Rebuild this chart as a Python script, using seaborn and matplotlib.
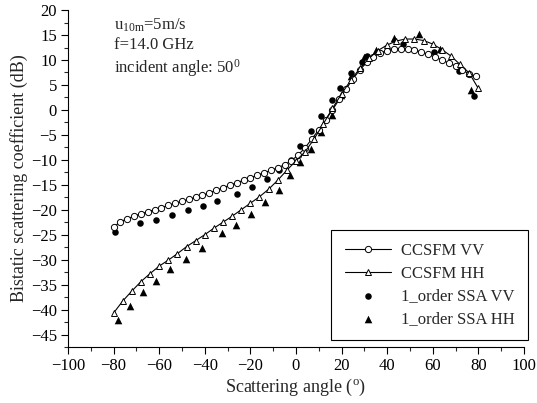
import numpy as np
import pandas as pd
import matplotlib
matplotlib.use("Agg")
import matplotlib.pyplot as plt
import seaborn as sns
from matplotlib.ticker import MultipleLocator

# ---- data ----
vv_x = [-80, -77, -74, -71, -68, -65, -62, -59, -56, -53, -50, -47, -44, -41, -38, -35,
        -32, -29, -26, -23, -20, -17, -14, -11, -8, -5, -2, 1, 4, 7, 10, 13, 16, 19, 22,
        25, 28, 31, 34, 37, 40, 43, 46, 49, 52, 55, 58, 61, 64, 67, 70, 73, 76, 79]
vv_y = [-23.5, -22.4, -21.8, -21.3, -20.8, -20.4, -20.0, -19.6, -19.1, -18.7, -18.3,
        -17.9, -17.5, -17.1, -16.6, -16.1, -15.6, -15.1, -14.6, -14.1, -13.6, -13.1,
        -12.6, -12.1, -11.6, -11.0, -10.2, -9.0, -7.6, -5.8, -4.0, -2.0, 0.0, 2.1, 4.2,
        6.2, 8.0, 9.5, 10.6, 11.4, 11.9, 12.2, 12.3, 12.2, 12.0, 11.6, 11.1, 10.6, 10.0,
        9.4, 8.8, 8.0, 7.2, 6.7]

hh_x = [-80, -76, -72, -68, -64, -60, -56, -52, -48, -44, -40, -36, -32, -28, -24, -20,
        -16, -12, -8, -4, 0, 4, 8, 12, 16, 20, 24, 28, 32, 36, 40, 44, 48, 52, 56, 60,
        64, 68, 72, 76, 80]
hh_y = [-40.7, -38.3, -36.3, -34.4, -32.8, -31.3, -30.1, -28.8, -27.4, -26.2, -25.0,
        -23.7, -22.5, -21.3, -20.0, -18.7, -17.4, -15.9, -14.1, -12.1, -10.2, -8.4, -5.8,
        -2.8, 0.3, 3.2, 5.9, 8.3, 10.3, 11.9, 13.0, 13.8, 14.2, 14.2, 13.9, 13.2, 12.1,
        10.8, 9.1, 7.4, 4.3]

ssa_vv_x = [-79.3, -68.3, -61.4, -54.2, -47.3, -40.9, -34.6, -26.0, -19.4, -12.9, -7.5,
            -2.3, 2.0, 6.7, 11.0, 15.8, 19.4, 24.3, 29.1, 31.3, 47.0, 60.5, 71.4, 78.0]
ssa_vv_y = [-24.5, -22.7, -22.0, -21.0, -20.1, -19.3, -18.2, -16.8, -15.5, -13.9, -12.0,
            -10.1, -7.3, -4.2, -1.3, 1.9, 4.3, 7.3, 9.6, 10.7, 13.3, 11.7, 7.8, 2.8]

ssa_hh_x = [-78.1, -72.7, -67.2, -61.2, -55.2, -48.1, -41.4, -32.5, -26.4, -19.6, -13.6,
            -7.5, -2.7, 2.0, 6.7, 11.0, 15.8, 19.6, 24.3, 29.9, 35.0, 42.9, 54.1, 63.2,
            71.9, 77.0]
ssa_hh_y = [-42.1, -39.2, -36.5, -34.2, -31.9, -29.8, -27.7, -24.7, -23.0, -20.9, -18.5,
            -16.1, -13.0, -10.5, -7.8, -4.5, -1.0, 3.0, 6.7, 10.5, 12.0, 14.5, 15.2, 12.3,
            9.0, 3.9]

labels = ["CCSFM VV", "CCSFM HH", "1_order SSA VV", "1_order SSA HH"]
x_ticks = [-100, -80, -60, -40, -20, 0, 20, 40, 60, 80, 100]
y_ticks = [20, 15, 10, 5, 0, -5, -10, -15, -20, -25, -30, -35, -40, -45]

sns.set_style("ticks")
plt.rcParams['font.family'] = ['Liberation Serif', 'DejaVu Serif']
plt.rcParams['mathtext.fontset'] = 'custom'
plt.rcParams['mathtext.rm'] = 'Liberation Serif'
plt.rcParams['mathtext.it'] = 'Liberation Serif:italic'

fig = plt.figure(figsize=(5.37, 4.03), dpi=100)
ax = fig.add_axes([0.1266, 0.139, 0.849, 0.836])

df_vv = pd.DataFrame({"x": vv_x, "y": vv_y})
df_hh = pd.DataFrame({"x": hh_x, "y": hh_y})
df_svv = pd.DataFrame({"x": ssa_vv_x, "y": ssa_vv_y})
df_shh = pd.DataFrame({"x": ssa_hh_x, "y": ssa_hh_y})

sns.lineplot(data=df_vv, x="x", y="y", ax=ax, color="black", lw=0.8, marker="o",
             markersize=4.5, markerfacecolor="white", markeredgecolor="black",
             markeredgewidth=0.7, label=labels[0], sort=False)
sns.lineplot(data=df_hh, x="x", y="y", ax=ax, color="black", lw=0.8, marker="^",
             markersize=5, markerfacecolor="white", markeredgecolor="black",
             markeredgewidth=0.7, label=labels[1], sort=False)
sns.scatterplot(data=df_svv, x="x", y="y", ax=ax, color="black", marker="o", s=22,
                edgecolor="black", linewidth=0, label=labels[2])
sns.scatterplot(data=df_shh, x="x", y="y", ax=ax, color="black", marker="^", s=30,
                edgecolor="black", linewidth=0, label=labels[3])

ax.set_xlim(-100, 100)
ax.set_ylim(-47.5, 20)
ax.set_xticks(x_ticks)
ax.set_yticks(y_ticks)
ax.xaxis.set_minor_locator(MultipleLocator(10))
ax.yaxis.set_minor_locator(MultipleLocator(2.5))
ax.tick_params(axis="both", which="major", direction="out", length=5, width=0.8,
               labelsize=12, colors="black", pad=3)
ax.tick_params(axis="both", which="minor", direction="out", length=3, width=0.8)
for s in ["top", "right"]:
    ax.spines[s].set_visible(False)
for s in ["left", "bottom"]:
    ax.spines[s].set_linewidth(0.8)
    ax.spines[s].set_color("black")

ax.set_xlabel("Scattering angle ($^{\\mathrm{o}}$)", fontsize=13, labelpad=2)
ax.set_ylabel("Bistatic scattering coefficient (dB)", fontsize=13, labelpad=2)

ax.text(0.10, 0.955, "u$_{\\mathrm{10m}}$=5m/s", transform=ax.transAxes, fontsize=12,
        va="center", ha="left")
ax.text(0.10, 0.895, "f=14.0 GHz", transform=ax.transAxes, fontsize=12,
        va="center", ha="left")
ax.text(0.10, 0.828, "incident angle: 50$^{0}$", transform=ax.transAxes, fontsize=12,
        va="center", ha="left")

leg = ax.legend(loc="lower right", bbox_to_anchor=(1.01, 0.02), fontsize=12,
                frameon=True, fancybox=False, edgecolor="black", framealpha=1,
                handlelength=2.8, handletextpad=0.6, borderpad=0.8, labelspacing=0.4,
                borderaxespad=0.0)
leg.get_frame().set_linewidth(0.8)

fig.savefig("out.png", dpi=100)
